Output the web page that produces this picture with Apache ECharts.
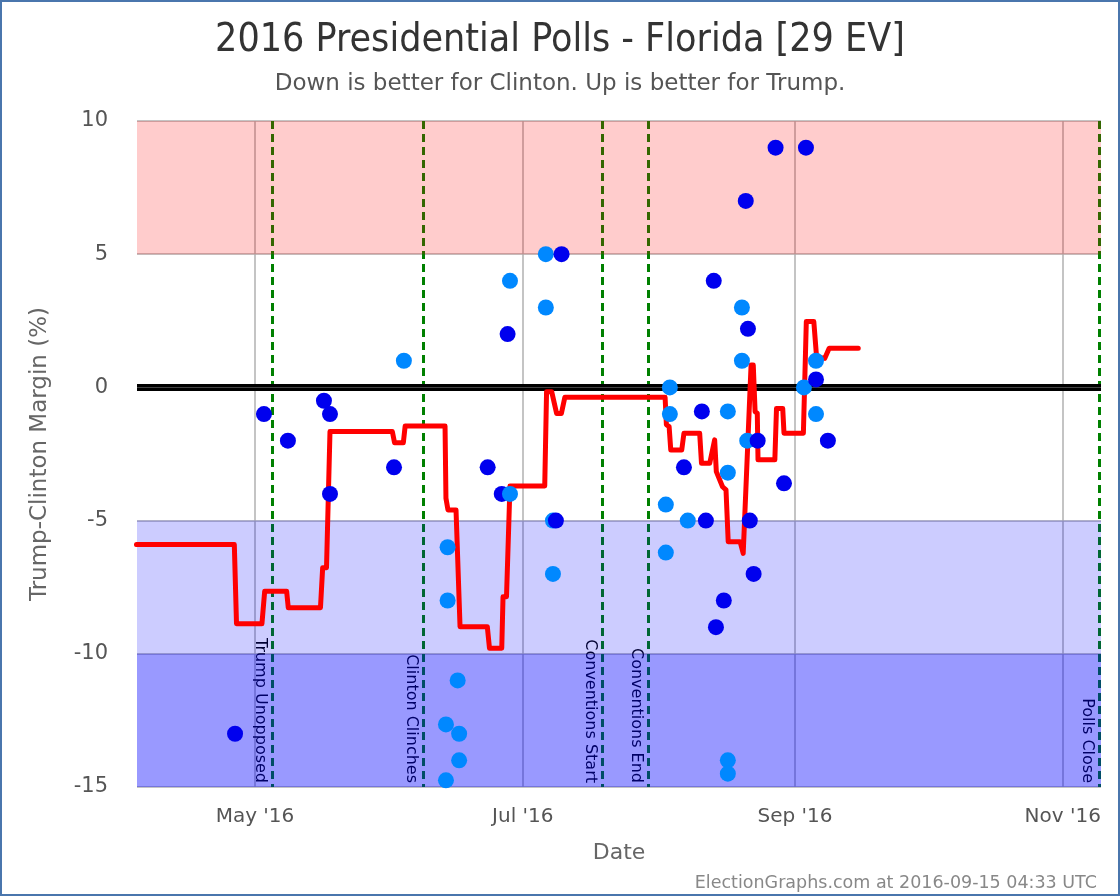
<!DOCTYPE html>
<html><head><meta charset="utf-8">
<script src="https://cdn.jsdelivr.net/npm/echarts@6/dist/echarts.min.js"></script>
<style>
html,body{margin:0;padding:0;background:#fff;}
#chart{position:absolute;left:0;top:0;width:1120px;height:896px;}
#frame{position:absolute;left:0;top:0;width:1120px;height:896px;box-sizing:border-box;border:2px solid #4a76ad;pointer-events:none;}
</style></head>
<body><div id="chart"></div><div id="frame"></div>
<script>
// ---------- DATA ----------
const darkPolls = [
  ['2016-04-26 11:00', -13],
  ['2016-05-03 01:00', -1],
  ['2016-05-08 12:00', -2],
  ['2016-05-16 17:00', -0.5],
  ['2016-05-18 02:00', -1],
  ['2016-05-18 02:00', -4],
  ['2016-06-01 16:00', -3],
  ['2016-06-23 00:00', -3],
  ['2016-06-26 05:00', -4],
  ['2016-06-27 13:00', 2],
  ['2016-07-08 13:00', -5],
  ['2016-07-09 20:00', 5],
  ['2016-08-06 17:00', -3],
  ['2016-08-10 19:00', -0.9],
  ['2016-08-11 17:00', -5],
  ['2016-08-13 12:00', 4],
  ['2016-08-14 00:00', -9],
  ['2016-08-15 19:00', -8],
  ['2016-08-20 19:00', 7],
  ['2016-08-21 07:00', 2.2],
  ['2016-08-21 17:00', -5],
  ['2016-08-22 14:00', -7],
  ['2016-08-23 12:00', -2],
  ['2016-08-27 14:00', 9],
  ['2016-08-29 12:00', -3.6],
  ['2016-09-03 12:00', 9],
  ['2016-09-05 19:00', 0.3],
  ['2016-09-08 12:00', -2]
];
const lightPolls = [
  ['2016-06-03 22:00', 1],
  ['2016-06-13 12:00', -12.65],
  ['2016-06-13 12:00', -14.75],
  ['2016-06-13 21:00', -6],
  ['2016-06-13 21:00', -8],
  ['2016-06-16 04:00', -11],
  ['2016-06-16 12:00', -13],
  ['2016-06-16 12:00', -14],
  ['2016-06-28 02:00', -4],
  ['2016-06-28 02:00', 4],
  ['2016-07-06 06:00', 5],
  ['2016-07-06 06:00', 3],
  ['2016-07-07 21:00', -5],
  ['2016-07-07 21:00', -7],
  ['2016-08-02 14:00', -4.4],
  ['2016-08-02 14:00', -6.2],
  ['2016-08-03 12:00', 0],
  ['2016-08-03 12:00', -1],
  ['2016-08-07 14:00', -5],
  ['2016-08-16 17:00', -0.9],
  ['2016-08-16 17:00', -3.2],
  ['2016-08-16 17:00', -14],
  ['2016-08-16 17:00', -14.5],
  ['2016-08-19 22:00', 3],
  ['2016-08-19 22:00', 1],
  ['2016-08-21 03:00', -2],
  ['2016-09-03 01:00', 0],
  ['2016-09-05 19:00', 1],
  ['2016-09-05 19:00', -1]
];
const average = [
  ['2016-04-04 00:00', -5.9],
  ['2016-04-26 07:00', -5.9],
  ['2016-04-26 19:00', -8.87],
  ['2016-05-02 14:00', -8.87],
  ['2016-05-03 05:00', -7.65],
  ['2016-05-08 05:00', -7.65],
  ['2016-05-08 14:00', -8.27],
  ['2016-05-15 22:00', -8.27],
  ['2016-05-16 10:00', -6.77],
  ['2016-05-17 07:00', -6.77],
  ['2016-05-18 02:00', -1.66],
  ['2016-06-01 07:00', -1.66],
  ['2016-06-01 19:00', -2.08],
  ['2016-06-03 19:00', -2.08],
  ['2016-06-04 05:00', -1.45],
  ['2016-06-13 07:00', -1.45],
  ['2016-06-13 12:00', -4.16],
  ['2016-06-13 23:00', -4.6],
  ['2016-06-15 19:00', -4.6],
  ['2016-06-16 17:00', -8.98],
  ['2016-06-22 22:00', -8.98],
  ['2016-06-23 10:00', -9.79],
  ['2016-06-26 05:00', -9.79],
  ['2016-06-26 12:00', -7.86],
  ['2016-06-27 07:00', -7.86],
  ['2016-06-28 02:00', -3.7],
  ['2016-07-06 00:00', -3.7],
  ['2016-07-06 10:00', -0.16],
  ['2016-07-07 14:00', -0.16],
  ['2016-07-08 17:00', -0.98],
  ['2016-07-09 19:00', -0.98],
  ['2016-07-10 14:00', -0.37],
  ['2016-08-02 10:00', -0.37],
  ['2016-08-02 17:00', -1.4],
  ['2016-08-03 08:00', -1.47],
  ['2016-08-03 17:00', -2.35],
  ['2016-08-06 05:00', -2.35],
  ['2016-08-06 17:00', -1.72],
  ['2016-08-10 07:00', -1.72],
  ['2016-08-10 17:00', -2.85],
  ['2016-08-12 14:00', -2.85],
  ['2016-08-13 17:00', -1.97],
  ['2016-08-14 02:00', -3.16],
  ['2016-08-15 12:00', -3.73],
  ['2016-08-16 07:00', -3.85],
  ['2016-08-16 19:00', -5.79],
  ['2016-08-19 12:00', -5.79],
  ['2016-08-20 05:00', -6.23],
  ['2016-08-22 00:00', 0.84],
  ['2016-08-22 12:00', 0.84],
  ['2016-08-22 22:00', -0.91],
  ['2016-08-23 10:00', -0.97],
  ['2016-08-23 14:00', -2.72],
  ['2016-08-27 10:00', -2.72],
  ['2016-08-27 19:00', -0.79],
  ['2016-08-29 05:00', -0.79],
  ['2016-08-29 12:00', -1.72],
  ['2016-09-02 22:00', -1.72],
  ['2016-09-03 14:00', 2.47],
  ['2016-09-05 07:00', 2.47],
  ['2016-09-05 22:00', 1.15],
  ['2016-09-07 19:00', 1.09],
  ['2016-09-08 19:00', 1.47],
  ['2016-09-15 10:00', 1.47]
];
const events = [
  ['2016-05-04 21:00', 'Trump Unopposed'],
  ['2016-06-08 10:00', 'Clinton Clinches'],
  ['2016-07-19 00:00', 'Conventions Start'],
  ['2016-07-29 12:00', 'Conventions End'],
  ['2016-11-09 08:00', 'Polls Close']
];
const xTicks = ['2016-05-01 00:00', '2016-07-01 00:00', '2016-09-01 00:00', '2016-11-01 00:00'];
const xTickLabels = ["May '16", "Jul '16", "Sep '16", "Nov '16"];
const xRange = ['2016-04-04 03:00', '2016-11-09 17:00'];
const yRange = [-15, 10];
const bands = [[10, 5], [-5, -10], [-10, -15]];

const titleText = '2016 Presidential Polls - Florida [29 EV]';
const subtitleText = 'Down is better for Clinton. Up is better for Trump.';
const creditText = 'ElectionGraphs.com at 2016-09-15 04:33 UTC';

// ---------- BUILD ----------
function ts(s) { return new Date(s.replace(' ', 'T')).getTime(); }
const bandColors = ['rgba(255,0,0,0.2)', 'rgba(0,0,255,0.2)', 'rgba(0,0,255,0.4)'];
const DARK = '#0000ee', LIGHT = '#0088ff';
const pts = darkPolls.map(p => ({ t: ts(p[0]), v: p[1], c: DARK }))
  .concat(lightPolls.map(p => ({ t: ts(p[0]), v: p[1], c: LIGHT })))
  .sort((a, b) => a.t - b.t);
const tickTs = xTicks.map(ts);
const FONT = "'DejaVu Sans', sans-serif";
const CFONT = "'DejaVu Sans Condensed', 'DejaVu Sans', sans-serif";

const chart = echarts.init(document.getElementById('chart'), null, { renderer: 'canvas' });
chart.setOption({
  animation: false,
  backgroundColor: '#fff',
  title: [
    { text: titleText, left: 'center', top: 16, textStyle: { fontFamily: CFONT, fontSize: 39, fontWeight: 'normal', color: '#333' } },
    { text: subtitleText, left: 'center', top: 68, textStyle: { fontFamily: FONT, fontSize: 23, fontWeight: 'normal', color: '#555' } },
    { text: creditText, right: 18, top: 869, textStyle: { fontFamily: FONT, fontSize: 17.5, fontWeight: 'normal', color: '#888' } }
  ],
  grid: { left: 137, top: 121, width: 964, height: 666, containLabel: false },
  xAxis: {
    type: 'value', min: ts(xRange[0]), max: ts(xRange[1]),
    name: 'Date', nameLocation: 'middle', nameGap: 55,
    nameTextStyle: { fontFamily: FONT, fontSize: 22, color: '#666' },
    axisLine: { show: false }, axisTick: { show: false, customValues: tickTs },
    axisLabel: {
      customValues: tickTs, margin: 20, fontFamily: FONT, fontSize: 20, color: '#555',
      formatter: function (v) { const i = tickTs.indexOf(v); return i >= 0 ? xTickLabels[i] : ''; }
    },
    splitLine: { show: true, lineStyle: { color: '#b0b0b0', width: 1.5 } }
  },
  yAxis: {
    type: 'value', min: yRange[0], max: yRange[1], interval: 5,
    name: 'Trump-Clinton Margin (%)', nameLocation: 'middle', nameGap: 85,
    nameTextStyle: { fontFamily: FONT, fontSize: 23, color: '#666' },
    axisLine: { show: false }, axisTick: { show: false },
    axisLabel: { margin: 29, fontFamily: FONT, fontSize: 21, color: '#555' },
    splitLine: { show: true, lineStyle: { color: '#b0b0b0', width: 1.5 } }
  },
  series: [
    {
      name: 'events', type: 'line', data: [], z: 1, silent: true,
      markLine: {
        z: 1, silent: true, animation: false, symbol: ['none', 'none'],
        lineStyle: { color: '#008000', width: 3, type: [8, 5] },
        label: { show: true, position: 'insideEndBottom', distance: 4, formatter: '{b}',
          fontFamily: FONT, fontSize: 16, color: '#000' },
        emphasis: { disabled: true },
        data: events.map(e => [{ coord: [ts(e[0]), yRange[1]], name: e[1] }, { coord: [ts(e[0]), yRange[0]] }])
      }
    },
    {
      name: 'bands', type: 'line', data: [], z: 2, silent: true,
      markArea: {
        z: 2, silent: true, animation: false,
        data: bands.map((b, i) => [{ yAxis: b[0], itemStyle: { color: bandColors[i] } }, { yAxis: b[1] }])
      }
    },
    {
      name: 'zero', type: 'line', data: [], z: 3, silent: true,
      markLine: {
        z: 3, silent: true, animation: false, symbol: ['none', 'none'], label: { show: false },
        emphasis: { disabled: true },
        data: [
          { yAxis: 0, lineStyle: { color: '#000', width: 7, type: 'solid' } },
          { yAxis: 0, lineStyle: { color: '#444', width: 1, type: 'solid' } }
        ]
      }
    },
    {
      name: 'average', type: 'line', z: 4, showSymbol: false, silent: true,
      data: average.map(a => [ts(a[0]), a[1]]),
      lineStyle: { color: '#ff0000', width: 5, cap: 'round', join: 'round' }
    },
    {
      name: 'polls', type: 'scatter', z: 5, symbolSize: 16, silent: true,
      data: pts.map(p => ({ value: [p.t, p.v], itemStyle: { color: p.c, opacity: 1 } }))
    }
  ]
});
</script></body></html>
